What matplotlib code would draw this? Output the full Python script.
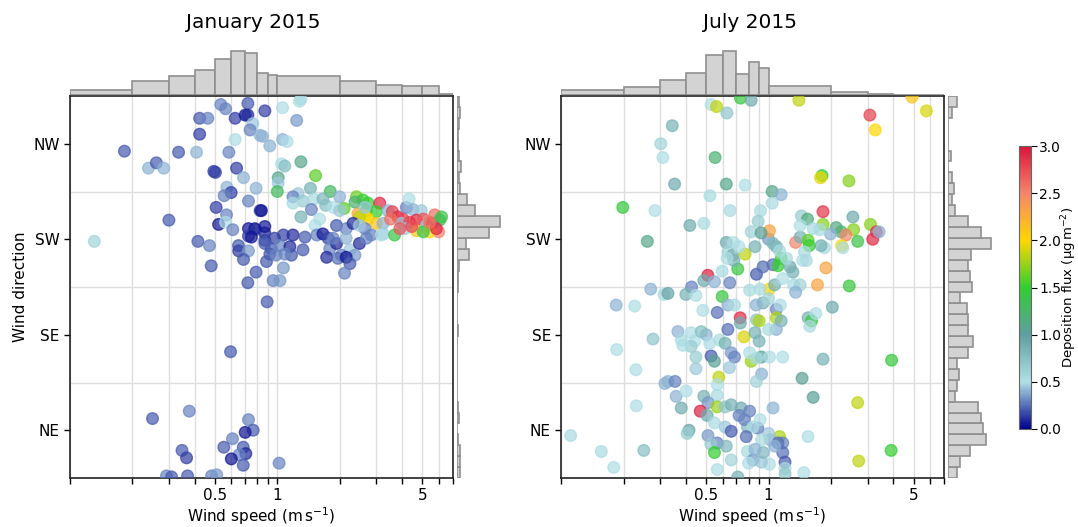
import numpy as np
import matplotlib
matplotlib.use('Agg')
import matplotlib.pyplot as plt
from matplotlib.colors import LinearSegmentedColormap, Normalize
from matplotlib.cm import ScalarMappable
from matplotlib.ticker import NullLocator

# --- histogram data -------------------------------------------------------
speed_edges = [0.1, 0.2, 0.3, 0.4, 0.5, 0.6, 0.7, 0.8, 0.9, 1, 2, 3, 4, 5, 6, 7]
jan_speed_hist = [17, 42, 58, 74, 108, 131, 124, 67, 59, 56, 41, 31, 27, 28, 5]
jul_speed_hist = [17, 26, 45, 67, 119, 132, 62, 100, 80, 27, 9, 4, 1.5, 1, 1]

dir_edges = np.linspace(0, 360, 36)
jan_dir_hist = [9, 9, 11, 4, 2, 8, 4, 0, 0, 0, 0, 0, 2, 3, 2, 0, 0, 3, 3, 8,
                37, 29, 95, 128, 56, 32, 10, 6, 14, 8, 4, 4, 6, 10, 6]
jul_dir_hist = [27, 37, 67, 115, 105, 100, 91, 23, 27, 34, 28, 62, 75, 62, 62, 58, 37, 72,
                67, 60, 70, 130, 100, 62, 23, 13, 19, 13, 2, 10, 2, 2, 2, 14, 27]

compass_ticks = [45, 135, 225, 315]
compass_labels = ['NE', 'SE', 'SW', 'NW']
speed_ticklabels = {0.5: '0.5', 1: '1', 5: '5'}

# --- January 2015 observations (speed m/s, direction deg, flux ug/m2) ------
jan_speed = [
    0.183, 0.239, 0.261, 0.283, 0.334, 0.408, 0.422, 0.462, 0.422, 0.534,
    0.563, 0.626, 0.721, 0.70, 0.721, 0.762, 0.739, 0.626, 0.584, 0.494,
    0.503, 0.636, 0.687, 0.79, 0.571, 0.599, 0.554, 0.507, 0.726, 0.826,
    0.30, 0.569, 0.521, 0.563, 0.61, 0.726, 0.726, 0.79, 0.414, 0.471,
    0.65, 0.651, 0.726, 0.687, 0.48, 0.721, 0.131, 0.826,
    0.871, 1.06, 1.28, 1.30, 1.24, 0.848, 0.92, 1.06, 1.115, 1.047,
    1.087, 1.30, 1.53, 1.01, 1.01, 1.0, 1.445, 1.80, 1.26, 1.19,
    1.33, 1.19, 1.50, 1.66, 1.71, 1.87, 2.10, 0.838, 1.46, 1.30,
    1.60, 1.52, 2.0, 2.0, 2.41, 2.59, 2.37, 2.74, 3.12, 2.69,
    3.0, 2.45, 2.65, 2.74, 2.49, 3.0, 3.42, 3.59, 3.82, 4.04,
    4.19, 4.32, 4.51, 4.95, 3.24, 3.24, 3.68, 3.97, 4.35, 4.69,
    4.69, 5.06, 5.24, 5.6, 5.75, 6.07, 6.2, 6.0, 5.43, 5.06,
    5.85, 5.43, 4.12, 4.45, 3.9, 3.52,
    0.779, 0.87, 0.871, 0.97, 1.07, 1.19, 1.36, 1.55, 1.66, 1.76,
    1.93, 2.15, 2.32, 2.65, 2.84, 0.871, 0.75, 0.871, 0.935, 1.03,
    1.15, 1.33, 1.17, 1.087, 0.92, 0.887, 0.985, 1.79, 1.93, 2.15,
    2.24, 2.49, 2.37, 2.04, 1.73, 1.96, 2.15, 2.24, 1.07, 0.955,
    1.03, 2.11, 2.69, 2.49, 3.18, 2.65, 1.86, 0.79,
    0.893, 0.595, 0.25, 0.376, 0.726, 0.765, 0.70, 0.608, 0.552, 0.685,
    0.705, 0.655, 0.60, 0.685, 0.347, 0.365, 1.02, 0.292, 0.309, 0.369,
    0.482, 0.51,
]
jan_dir = [
    308, 292, 297, 292, 307, 307, 339, 339, 324, 352,
    348, 339, 353, 342, 342, 334, 328, 319, 307, 289,
    288, 292, 283, 273, 274, 269, 266, 255, 261, 252,
    243, 248, 239, 241, 234, 235, 228, 234, 223, 219,
    219, 214, 214, 206, 200, 184, 223, 323,
    346, 349, 355, 357, 337, 322, 313, 319, 317, 296,
    294, 298, 285, 283, 278, 270, 273, 270, 268, 265,
    261, 259, 263, 263, 257, 255, 254, 252, 253, 246,
    244, 238, 265, 252, 265, 262, 260, 259, 259, 252,
    251, 249, 247, 244, 246, 240, 252, 251, 246, 244,
    255, 263, 253, 252, 240, 230, 229, 240, 241, 243,
    233, 244, 238, 240, 248, 243, 246, 232, 232, 232,
    235, 241, 235, 237, 235, 244,
    235, 231, 224, 226, 229, 229, 227, 229, 230, 226,
    238, 235, 240, 235, 229, 237, 227, 221, 216, 219,
    218, 215, 210, 211, 211, 204, 210, 216, 221, 226,
    215, 221, 210, 210, 208, 207, 208, 202, 198, 186,
    186, 193, 226, 238, 229, 255, 226, 194,
    166, 119, 56, 63, 55, 45, 43, 37, 29, 29,
    23, 22, 18, 12, 26, 19, 14, 2, 1, 2,
    2, 3,
]
jan_flux = [
    0.2, 0.4, 0.2, 0.4, 0.2, 0.4, 0.2, 0.3, 0.15, 0.3,
    0.3, 0.15, 0.2, 0.05, 0.1, 0.45, 0.3, 0.5, 0.3, 0.15,
    0.15, 0.15, 0.4, 0.4, 0.4, 0.15, 0.3, 0.15, 0.3, 0.15,
    0.2, 0.3, 0.05, 0.5, 0.3, 0.05, 0.15, 0.3, 0.2, 0.3,
    0.2, 0.15, 0.35, 0.2, 0.2, 0.2, 0.6, 0.4,
    0.15, 0.5, 0.5, 0.55, 0.35, 0.4, 0.4, 0.4, 0.5, 0.5,
    0.75, 1.1, 1.6, 1.1, 0.45, 1.3, 0.85, 1.3, 0.45, 0.3,
    0.65, 0.55, 0.55, 0.8, 0.75, 0.5, 1.6, 0.05, 0.3, 0.85,
    0.5, 0.5, 0.4, 0.45, 1.65, 1.5, 1.2, 1.5, 2.9, 1.5,
    1.5, 2.3, 1.95, 2.0, 1.85, 2.1, 0.4, 2.8, 2.9, 2.8,
    0.3, 0.5, 0.4, 0.45, 0.4, 0.45, 1.4, 0.45, 2.8, 2.9,
    2.1, 2.7, 0.45, 3.0, 2.6, 1.3, 1.4, 2.5, 2.0, 1.4,
    2.9, 2.6, 0.45, 2.75, 2.7, 2.6,
    0.05, 0.1, 0.15, 0.15, 0.15, 0.1, 0.2, 0.3, 0.05, 0.15,
    0.2, 0.3, 0.1, 0.3, 0.3, 0.05, 0.05, 0.2, 0.2, 0.3,
    0.1, 0.2, 0.2, 0.3, 0.2, 0.2, 0.3, 0.3, 0.1, 0.4,
    0.45, 0.1, 0.35, 0.3, 0.1, 0.25, 0.05, 0.2, 0.35, 0.3,
    0.35, 0.3, 0.3, 0.45, 0.5, 0.45, 0.3, 0.2,
    0.2, 0.2, 0.2, 0.3, 0.3, 0.2, 0.05, 0.3, 0.2, 0.2,
    0.1, 0.3, 0.05, 0.2, 0.2, 0.15, 0.3, 0.3, 0.2, 0.2,
    0.3, 0.35,
]

# --- July 2015 observations ------------------------------------------------
jul_speed = [
    0.528, 0.561, 0.629, 0.732, 0.824, 0.343, 0.302, 0.309, 0.552, 0.352,
    0.625, 0.77, 0.521, 0.652, 0.198, 0.283, 0.417, 0.487, 0.26, 0.625,
    0.677, 0.636, 0.67, 0.77, 0.824, 0.71, 0.597, 0.509, 0.487, 0.548,
    0.65, 0.27, 0.425,
    1.40, 4.92, 5.77, 3.08, 3.27, 1.81, 1.78, 2.44, 1.04, 1.15,
    1.04, 0.914, 1.83, 2.55, 0.89, 1.44, 1.54, 3.1, 3.31, 3.18,
    3.41, 2.57, 2.69, 2.12, 2.24, 2.36, 2.25, 2.28, 1.99, 1.83,
    1.77, 1.64, 1.86, 1.79, 1.35, 1.42, 1.55, 1.57, 1.49, 1.46,
    1.52, 1.89, 1.72, 2.45, 1.32, 1.42, 1.006, 0.874, 0.94, 1.05,
    1.15, 1.11, 1.27, 1.31, 1.22, 0.86, 1.0, 1.01, 0.92, 1.09,
    1.05, 1.13, 1.42, 1.07, 0.91, 1.17,
    0.111, 0.156, 0.179, 0.25, 0.184, 0.226, 0.185, 0.229, 0.23, 0.277,
    0.313, 0.327, 0.399, 0.446, 0.316, 0.327, 0.354, 0.358, 0.40, 0.379,
    0.413, 0.405, 0.365, 0.423, 0.379, 0.44, 0.446, 0.446, 0.482, 0.565,
    0.597, 0.636, 0.685, 0.729, 0.731, 0.636, 0.76, 0.824, 0.50, 0.58,
    0.617, 0.528, 0.548, 0.66, 0.685, 0.647, 0.575, 0.565, 0.565, 0.487,
    0.51, 0.468, 0.505, 0.565, 0.617, 0.66, 0.737, 0.548, 0.617, 0.66,
    0.72, 0.51, 0.565, 0.526, 0.548, 0.625, 0.66, 0.565, 0.71, 0.79,
    0.84, 0.79, 0.765, 0.473, 0.423, 0.386, 0.52,
    1.35, 2.03, 1.55, 1.61, 1.69, 1.58, 1.09, 1.14, 0.94, 1.09,
    1.15, 1.09, 1.0, 0.874, 0.9, 0.86, 0.90, 0.81, 0.925, 1.01,
    1.17, 1.83, 3.92, 1.45, 1.64, 2.69, 1.55, 3.9, 2.72, 1.48,
    1.13, 1.17, 1.17, 1.2, 1.2, 1.2, 1.01, 0.924, 0.8, 0.943,
    1.02, 1.0, 0.887, 0.84, 0.78, 0.81, 1.11, 1.07, 0.925, 0.86,
    1.0, 0.87, 0.81, 0.874, 0.925, 0.874, 1.05, 0.91, 0.68, 0.72,
    0.63,
]
jul_dir = [
    352, 350, 344, 358, 356, 332, 315, 302, 302, 277,
    277, 276, 266, 252, 255, 252, 238, 240, 223, 222,
    222, 213, 210, 211, 232, 197, 195, 191, 186, 185,
    184, 178, 180,
    356, 359, 346, 342, 328, 285, 283, 280, 270, 267,
    259, 252, 251, 246, 242, 247, 244, 239, 232, 225,
    232, 234, 223, 236, 232, 229, 219, 217, 230, 239,
    234, 235, 217, 219, 222, 227, 224, 219, 213, 205,
    205, 198, 182, 181, 182, 182, 178, 192, 199, 201,
    207, 200, 199, 194, 207, 218, 225, 233, 231, 218,
    221, 214, 238, 182, 178, 188,
    40, 25, 10, 26, 163, 162, 121, 102, 68, 131,
    173, 174, 173, 172, 89, 91, 91, 77, 82, 66,
    45, 42, 138, 137, 130, 129, 114, 103, 158, 156,
    171, 163, 163, 151, 146, 140, 133, 110, 135, 130,
    127, 115, 110, 118, 114, 104, 95, 88, 78, 77,
    71, 63, 59, 67, 67, 69, 66, 52, 48, 44,
    59, 40, 33, 32, 24, 30, 17, 8, 1, 25,
    17, 48, 55, 138, 124, 125, 127,
    175, 161, 151, 148, 155, 143, 159, 163, 165, 151,
    148, 140, 140, 149, 148, 137, 129, 118, 114, 114,
    114, 112, 111, 94, 76, 71, 39, 26, 16, 5,
    39, 33, 24, 15, 9, 4, 13, 15, 14, 24,
    36, 42, 47, 48, 39, 63, 33, 30, 36, 27,
    169, 163, 177, 113, 98, 91, 66, 55, 205, 218,
    207,
]
jul_flux = [
    0.5, 1.85, 0.7, 1.45, 0.9, 0.85, 0.6, 0.5, 1.2, 0.9,
    1.1, 0.5, 0.55, 0.55, 1.45, 0.5, 0.9, 0.55, 1.1, 0.9,
    0.5, 0.6, 0.85, 1.85, 0.6, 1.45, 0.55, 2.95, 0.9, 0.4,
    0.3, 0.4, 0.3,
    1.85, 2.1, 1.9, 2.8, 2.0, 1.5, 1.95, 1.7, 1.1, 0.4,
    0.55, 0.55, 2.85, 0.9, 0.65, 0.65, 1.15, 1.7, 2.85, 2.9,
    0.4, 1.7, 1.4, 1.1, 1.25, 2.5, 2.0, 0.55, 0.4, 1.7,
    0.55, 0.55, 0.55, 0.85, 2.5, 0.85, 1.6, 1.5, 0.55, 0.5,
    0.55, 2.3, 2.3, 1.45, 0.55, 0.6, 2.0, 0.2, 0.25, 0.25,
    1.45, 1.5, 0.9, 0.85, 0.55, 0.85, 0.35, 2.3, 1.05, 0.9,
    0.8, 0.55, 0.5, 0.85, 0.55, 0.5,
    0.55, 0.55, 0.5, 0.75, 0.4, 0.5, 0.5, 0.5, 0.5, 0.7,
    0.55, 0.95, 0.85, 0.5, 0.4, 0.4, 0.3, 0.4, 0.5, 0.9,
    0.95, 0.65, 0.4, 0.5, 0.55, 0.5, 0.65, 0.45, 0.5, 0.25,
    1.45, 0.4, 0.55, 2.9, 0.9, 0.25, 1.9, 1.75, 0.4, 0.55,
    0.85, 0.2, 1.05, 0.35, 0.3, 0.45, 1.85, 0.5, 0.55, 0.85,
    0.35, 2.95, 0.9, 1.75, 0.7, 0.85, 0.9, 0.55, 0.45, 0.2,
    0.3, 0.35, 0.3, 0.65, 1.5, 0.8, 0.6, 0.5, 0.85, 0.55,
    0.35, 0.8, 0.3, 0.75, 0.65, 0.5, 0.5,
    0.4, 0.9, 0.85, 1.45, 0.5, 0.55, 0.3, 0.5, 0.85, 1.8,
    0.85, 0.4, 0.55, 0.7, 1.8, 0.85, 0.85, 0.5, 1.05, 0.5,
    0.5, 0.85, 1.45, 1.05, 1.05, 1.85, 0.5, 1.5, 1.85, 0.5,
    1.8, 0.3, 0.25, 0.2, 0.55, 0.7, 0.5, 0.45, 0.5, 0.8,
    0.4, 0.45, 0.3, 0.5, 0.25, 0.3, 0.25, 0.4, 0.55, 0.4,
    0.6, 0.4, 0.55, 0.55, 0.4, 0.6, 0.4, 0.5, 0.85, 0.5,
    0.5,
]

flux_cmap = LinearSegmentedColormap.from_list('flux', [
    (0.0, '#00008b'), (1 / 6, '#b0e0e6'), (2 / 6, '#5f9ea0'),
    (3 / 6, '#32cd32'), (4 / 6, '#ffd700'), (5 / 6, '#f4866c'),
    (1.0, '#dc143c')])
flux_norm = Normalize(vmin=0, vmax=3)

W, H = 1078, 527
fig = plt.figure(figsize=(W / 100, H / 100), dpi=100)

BAR_FACE = '#d3d3d3'
BAR_EDGE = '#8f8f8f'
GRID = '#dedede'


def px_axes(x0, y0, w, h):
    """Axes placed by pixel box, measured from the top-left corner."""
    return fig.add_axes([x0 / W, 1 - (y0 + h) / H, w / W, h / H])


def draw_panel(x0, title, title_x, speed, direction, flux, speed_hist, dir_hist, ylabel):
    ax = px_axes(x0, 96, 382.5, 382)
    ax.set_xscale('log')
    ax.set_xlim(0.1, 7)
    ax.set_ylim(0, 360)
    ax.set_xticks(speed_edges)
    ax.set_xticklabels([speed_ticklabels.get(v, '') for v in speed_edges])
    ax.xaxis.set_minor_locator(NullLocator())
    ax.set_yticks(compass_ticks)
    ax.set_yticklabels(compass_labels)
    ax.set_yticks([90, 180, 270], minor=True)
    ax.tick_params(axis='y', which='minor', length=0)
    ax.tick_params(which='major', labelsize=11, length=4, width=1)
    ax.grid(True, axis='x', which='major', color=GRID, lw=1)
    ax.grid(True, axis='y', which='minor', color=GRID, lw=1)
    ax.set_axisbelow(True)
    for sp in ax.spines.values():
        sp.set_color('#222222')
        sp.set_linewidth(1.2)

    sc = ax.scatter(speed, direction, c=flux, cmap=flux_cmap, norm=flux_norm,
                    s=70, alpha=0.7, linewidths=1, zorder=3)

    ax.set_xlabel(r'Wind speed ($\mathrm{m\,s^{-1}}$)', fontsize=11, labelpad=1)
    if ylabel:
        ax.set_ylabel('Wind direction', fontsize=11)

    # marginal histogram of wind speed (top)
    axt = px_axes(x0, 48, 382.5, 47.5)
    axt.bar(speed_edges[:-1], speed_hist, width=np.diff(speed_edges), align='edge',
            color=BAR_FACE, edgecolor=BAR_EDGE, linewidth=1.2)
    axt.set_xscale('log')
    axt.set_xlim(0.1, 7)
    axt.set_ylim(0, max(speed_hist) * 1.06)
    axt.axis('off')

    # marginal histogram of wind direction (right)
    axr = px_axes(x0 + 386.5, 96, 46, 382)
    axr.barh(dir_edges[:-1], dir_hist, height=np.diff(dir_edges), align='edge',
             color=BAR_FACE, edgecolor=BAR_EDGE, linewidth=1.2)
    axr.set_ylim(0, 360)
    axr.set_xlim(0, max(dir_hist) * 1.06)
    axr.axis('off')

    fig.text(title_x / W, 1 - 22 / H, title, ha='center', va='center', fontsize=14.5)
    return sc


draw_panel(70, 'January 2015', 253, jan_speed, jan_dir, jan_flux,
           jan_speed_hist, jan_dir_hist, True)
draw_panel(561.3, 'July 2015', 750, jul_speed, jul_dir, jul_flux,
           jul_speed_hist, jul_dir_hist, False)

cax = px_axes(1019, 146, 12, 283)
cb = fig.colorbar(ScalarMappable(norm=flux_norm, cmap=flux_cmap), cax=cax)
cb.set_ticks([0, 0.5, 1.0, 1.5, 2.0, 2.5, 3.0])
cb.ax.set_yticklabels(['0.0', '0.5', '1.0', '1.5', '2.0', '2.5', '3.0'])
cb.ax.tick_params(labelsize=10, length=4, pad=2)
cb.outline.set_edgecolor('#666666')
# colorbar label placed by hand so it stays inside the figure
fig.text(1069.5 / W, 1 - 287 / H, r'Deposition flux ($\mathrm{µg\,m^{-2}}$)',
         rotation=90, ha='center', va='center', fontsize=9.5)

fig.savefig('out.png', dpi=100)
